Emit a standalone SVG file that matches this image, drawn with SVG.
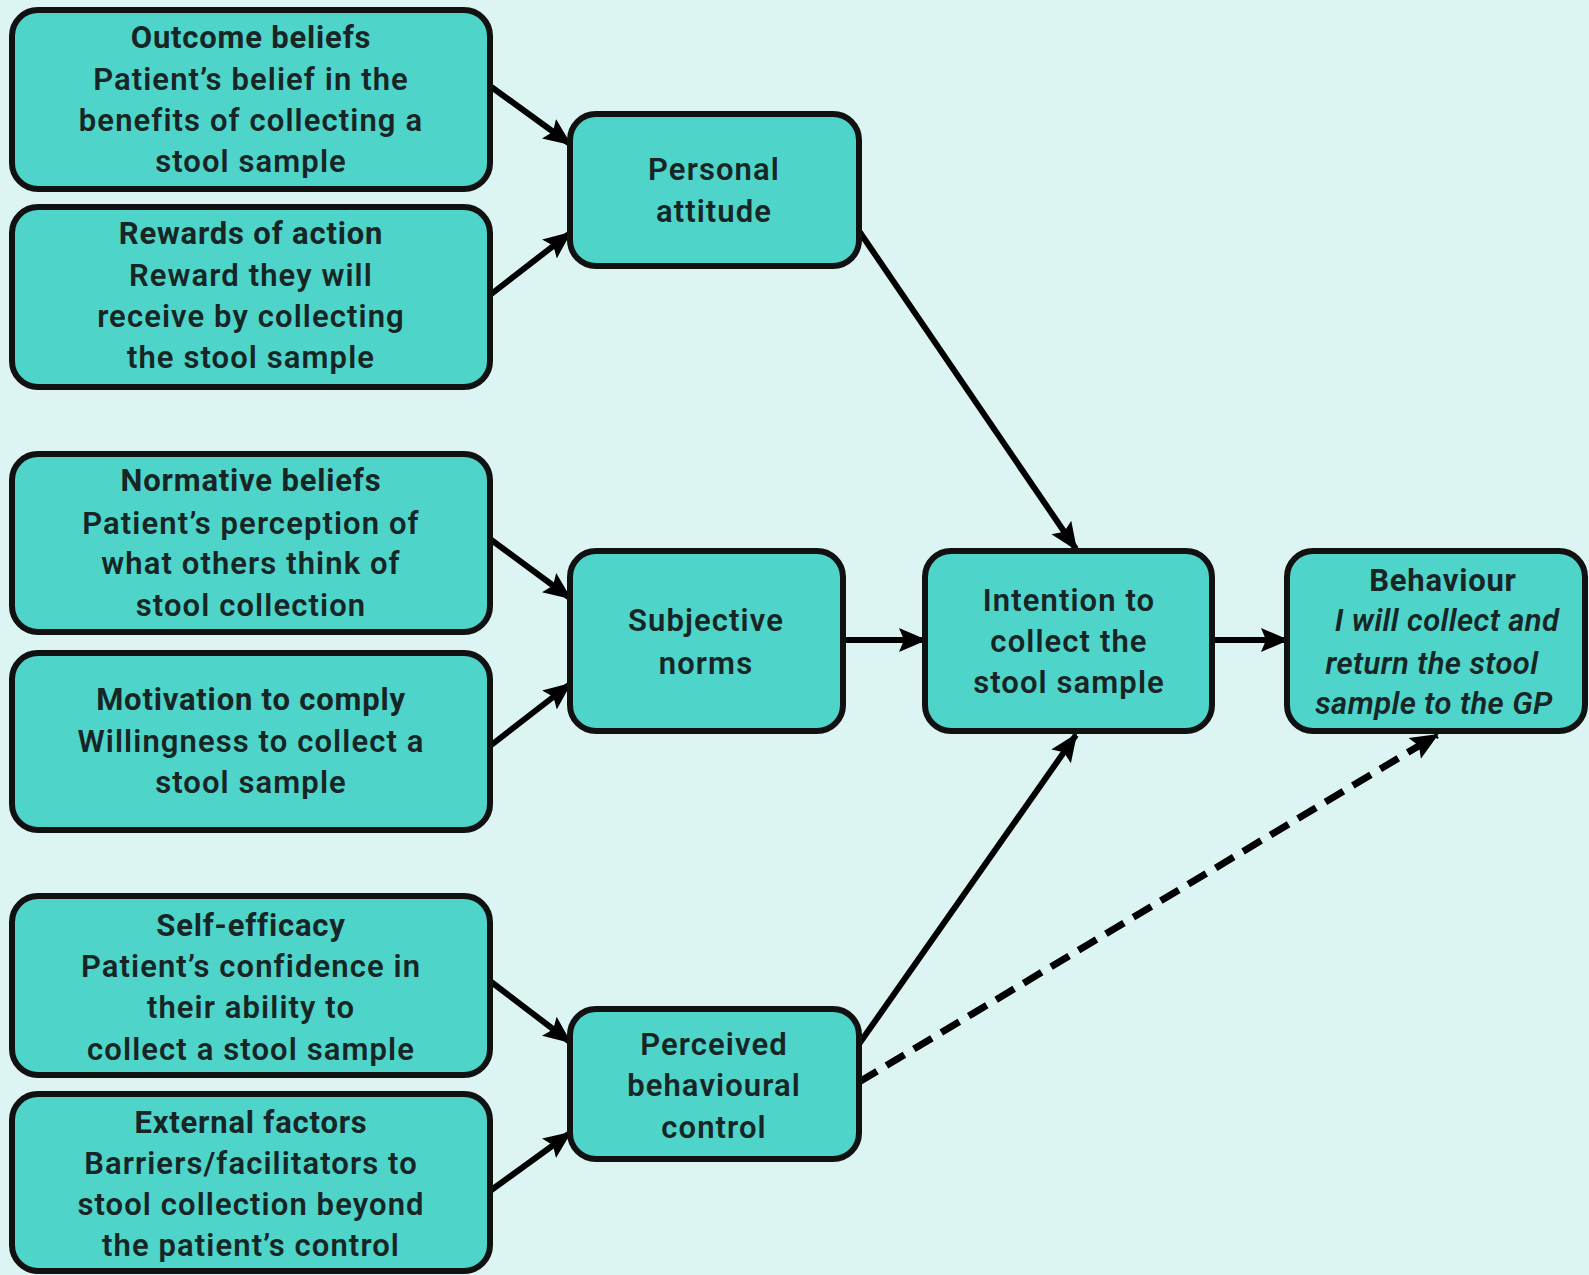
<svg xmlns="http://www.w3.org/2000/svg" width="1589" height="1275" viewBox="0 0 1589 1275">
  <defs>
    <style>
      .box { fill: #4ed4c9; stroke: #111; stroke-width: 6; }
      .t { font-family: Roboto, "Liberation Sans", sans-serif; font-size: 31px; letter-spacing: 1.1px; fill: #172525; text-anchor: middle; font-weight: 600; }
      .h { font-weight: 700; letter-spacing: 0.8px; }
      .i { font-style: italic; letter-spacing: 0.4px; }
      .edge { stroke: #000; stroke-width: 6; fill: none; marker-end: url(#arrow); }
      .dash { stroke-width: 7; stroke-dasharray: 21 11; }
    </style>
    <marker id="arrow" markerUnits="userSpaceOnUse" markerWidth="28" markerHeight="26" viewBox="0 0 28 26" refX="26" refY="13" orient="auto">
      <path d="M0,1 L28,13 L0,25 L5,13 Z" fill="#000"/>
    </marker>
  </defs>

  <rect width="1589" height="1275" fill="#dcf4f2"/>

  <!-- connectors -->
  <g id="connectors">
    <line class="edge" x1="490" y1="86" x2="570" y2="144"/>
    <line class="edge" x1="490" y1="295" x2="570" y2="233"/>
    <line class="edge" x1="859" y1="231" x2="1076" y2="549"/>
    <line class="edge" x1="490" y1="539" x2="570" y2="598"/>
    <line class="edge" x1="490" y1="746" x2="570" y2="684"/>
    <line class="edge" x1="843" y1="640" x2="925" y2="640"/>
    <line class="edge" x1="1212" y1="640" x2="1287" y2="640"/>
    <line class="edge" x1="490" y1="981" x2="570" y2="1042"/>
    <line class="edge" x1="490" y1="1191" x2="570" y2="1133"/>
    <line class="edge" x1="859" y1="1044" x2="1076" y2="735"/>
    <line class="edge dash" x1="859" y1="1082" x2="1437" y2="735"/>
  </g>

  <!-- belief boxes -->
  <g id="outcome-beliefs">
    <rect class="box" x="12" y="10" width="478" height="179" rx="26"/>
    <text class="t h" x="251" y="48">Outcome beliefs</text>
    <text class="t" x="251" y="90">Patient’s belief in the</text>
    <text class="t" x="251" y="131">benefits of collecting a</text>
    <text class="t" x="251" y="172">stool sample</text>
  </g>

  <g id="rewards-of-action">
    <rect class="box" x="12" y="207" width="478" height="180" rx="26"/>
    <text class="t h" x="251" y="244">Rewards of action</text>
    <text class="t" x="251" y="286">Reward they will</text>
    <text class="t" x="251" y="327">receive by collecting</text>
    <text class="t" x="251" y="368">the stool sample</text>
  </g>

  <g id="normative-beliefs">
    <rect class="box" x="12" y="454" width="478" height="178" rx="26"/>
    <text class="t h" x="251" y="491">Normative beliefs</text>
    <text class="t" x="251" y="534">Patient’s perception of</text>
    <text class="t" x="251" y="574">what others think of</text>
    <text class="t" x="251" y="616">stool collection</text>
  </g>

  <g id="motivation-to-comply">
    <rect class="box" x="12" y="653" width="478" height="177" rx="26"/>
    <text class="t h" x="251" y="710">Motivation to comply</text>
    <text class="t" x="251" y="752">Willingness to collect a</text>
    <text class="t" x="251" y="793">stool sample</text>
  </g>

  <g id="self-efficacy">
    <rect class="box" x="12" y="896" width="478" height="179" rx="26"/>
    <text class="t h" x="251" y="936">Self-efficacy</text>
    <text class="t" x="251" y="977">Patient’s confidence in</text>
    <text class="t" x="251" y="1018">their ability to</text>
    <text class="t" x="251" y="1060">collect a stool sample</text>
  </g>

  <g id="external-factors">
    <rect class="box" x="12" y="1094" width="478" height="177" rx="26"/>
    <text class="t h" x="251" y="1133">External factors</text>
    <text class="t" x="251" y="1174">Barriers/facilitators to</text>
    <text class="t" x="251" y="1215">stool collection beyond</text>
    <text class="t" x="251" y="1256">the patient’s control</text>
  </g>

  <!-- construct boxes -->
  <g id="personal-attitude">
    <rect class="box" x="570" y="114" width="289" height="152" rx="26"/>
    <text class="t" x="714" y="180">Personal</text>
    <text class="t" x="714" y="222">attitude</text>
  </g>

  <g id="subjective-norms">
    <rect class="box" x="570" y="551" width="273" height="180" rx="26"/>
    <text class="t" x="706" y="631">Subjective</text>
    <text class="t" x="706" y="674">norms</text>
  </g>

  <g id="perceived-behavioural-control">
    <rect class="box" x="570" y="1009" width="289" height="150" rx="26"/>
    <text class="t" x="714" y="1055">Perceived</text>
    <text class="t" x="714" y="1096">behavioural</text>
    <text class="t" x="714" y="1138">control</text>
  </g>

  <!-- outcome boxes -->
  <g id="intention">
    <rect class="box" x="925" y="551" width="287" height="180" rx="26"/>
    <text class="t" x="1069" y="611">Intention to</text>
    <text class="t" x="1069" y="652">collect the</text>
    <text class="t" x="1069" y="693">stool sample</text>
  </g>

  <g id="behaviour">
    <rect class="box" x="1287" y="551" width="298" height="180" rx="26"/>
    <text class="t h" x="1443" y="591">Behaviour</text>
    <text class="t i" x="1447" y="631">I will collect and</text>
    <text class="t i" x="1432" y="674">return the stool</text>
    <text class="t i" x="1434" y="714">sample to the GP</text>
  </g>
</svg>
